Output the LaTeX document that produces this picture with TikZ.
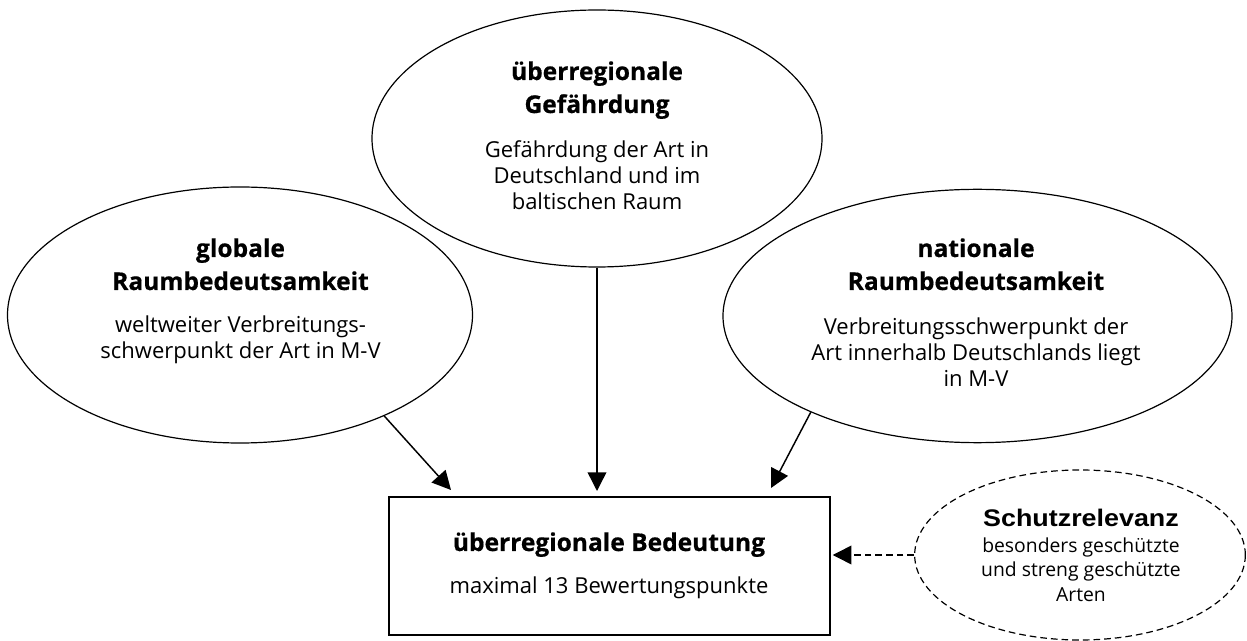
\documentclass[tikz,border=0pt]{standalone}
\usepackage{fontspec}
\setmainfont{Open Sans}[BoldFeatures={FakeBold=0.6}]
\newfontfamily\arialfont[FakeStretch=1.12]{Liberation Sans}
\usetikzlibrary{arrows.meta,shapes.geometric}
\begin{document}
\begin{tikzpicture}[x=0.75pt,y=-0.75pt,
  oval/.style={draw,ellipse,line width=0.9pt,inner sep=0pt},
  boxnode/.style={draw,rectangle,line width=1.1pt,inner sep=0pt},
  arr/.style={line width=1.1pt,-{Triangle[length=14pt,width=14pt]}},
  hd/.style={anchor=base,font=\fontsize{18.4}{22}\selectfont\bfseries,inner sep=0pt},
  tx/.style={anchor=base,font=\fontsize{16.5}{20}\selectfont,inner sep=0pt},
  ahd/.style={anchor=base,font=\arialfont\fontsize{18}{21}\selectfont\bfseries,inner sep=0pt},
  atx/.style={anchor=base,font=\fontsize{14.5}{18}\selectfont,inner sep=0pt}]
\useasboundingbox (0,0) rectangle (1247,641);
% shapes
\node[oval,minimum width=337.5pt,minimum height=192.75pt] (te) at (597,138.5) {};
\node[oval,minimum width=348.75pt,minimum height=192pt] (le) at (240,315) {};
\node[oval,minimum width=381.75pt,minimum height=190pt] (re) at (977.5,316) {};
\node[boxnode,minimum width=330.75pt,minimum height=103.5pt] (box) at (609.5,566) {};
\node[oval,dashed,dash pattern=on 5pt off 3pt,minimum width=248pt,minimum height=127.5pt] (se) at (1080,555) {};
% texts top
\node[hd] (t1) at (597,80) {überregionale};
\node[hd] (t2) at (597,113) {Gefährdung};
\node[tx] (t3) at (597,158) {Gefährdung der Art in};
\node[tx] (t4) at (597,184) {Deutschland und im};
\node[tx] (t5) at (597,210) {baltischen Raum};
% texts left
\node[hd] (l1) at (240.5,257) {globale};
\node[hd] (l2) at (240.5,290) {Raumbedeutsamkeit};
\node[tx] (l3) at (240.5,333) {weltweiter Verbreitungs-};
\node[tx] (l4) at (240.5,359) {schwerpunkt der Art in M-V};
% texts right
\node[hd] (r1) at (976,257) {nationale};
\node[hd] (r2) at (976,290) {Raumbedeutsamkeit};
\node[tx] (r3) at (976,335) {Verbreitungsschwerpunkt der};
\node[tx] (r4) at (976,361) {Art innerhalb Deutschlands liegt};
\node[tx] (r5) at (976,387) {in M-V};
% texts box
\node[hd] (b1) at (609,551) {überregionale Bedeutung};
\node[tx] (b2) at (609,594) {maximal 13 Bewertungspunkte};
% texts dashed
\node[ahd] (s1) at (1081,527) {Schutzrelevanz};
\node[atx] (s2) at (1081,553) {besonders geschützte};
\node[atx] (s3) at (1081,577) {und streng geschützte};
\node[atx] (s4) at (1081,601) {Arten};
% connectors
\coordinate (p1) at (451,490);
\coordinate (p2) at (597,491);
\coordinate (p3) at (771,488);
\draw[arr] (le.-35.2) -- (p1);
\draw[arr] (te.south) -- (p2);
\draw[arr] (re.210.8) -- (p3);
\draw[arr,dashed,dash pattern=on 5pt off 3pt] (se.west) -- ([xshift=1.5pt]box.east |- se.west);
\end{tikzpicture}
\end{document}
